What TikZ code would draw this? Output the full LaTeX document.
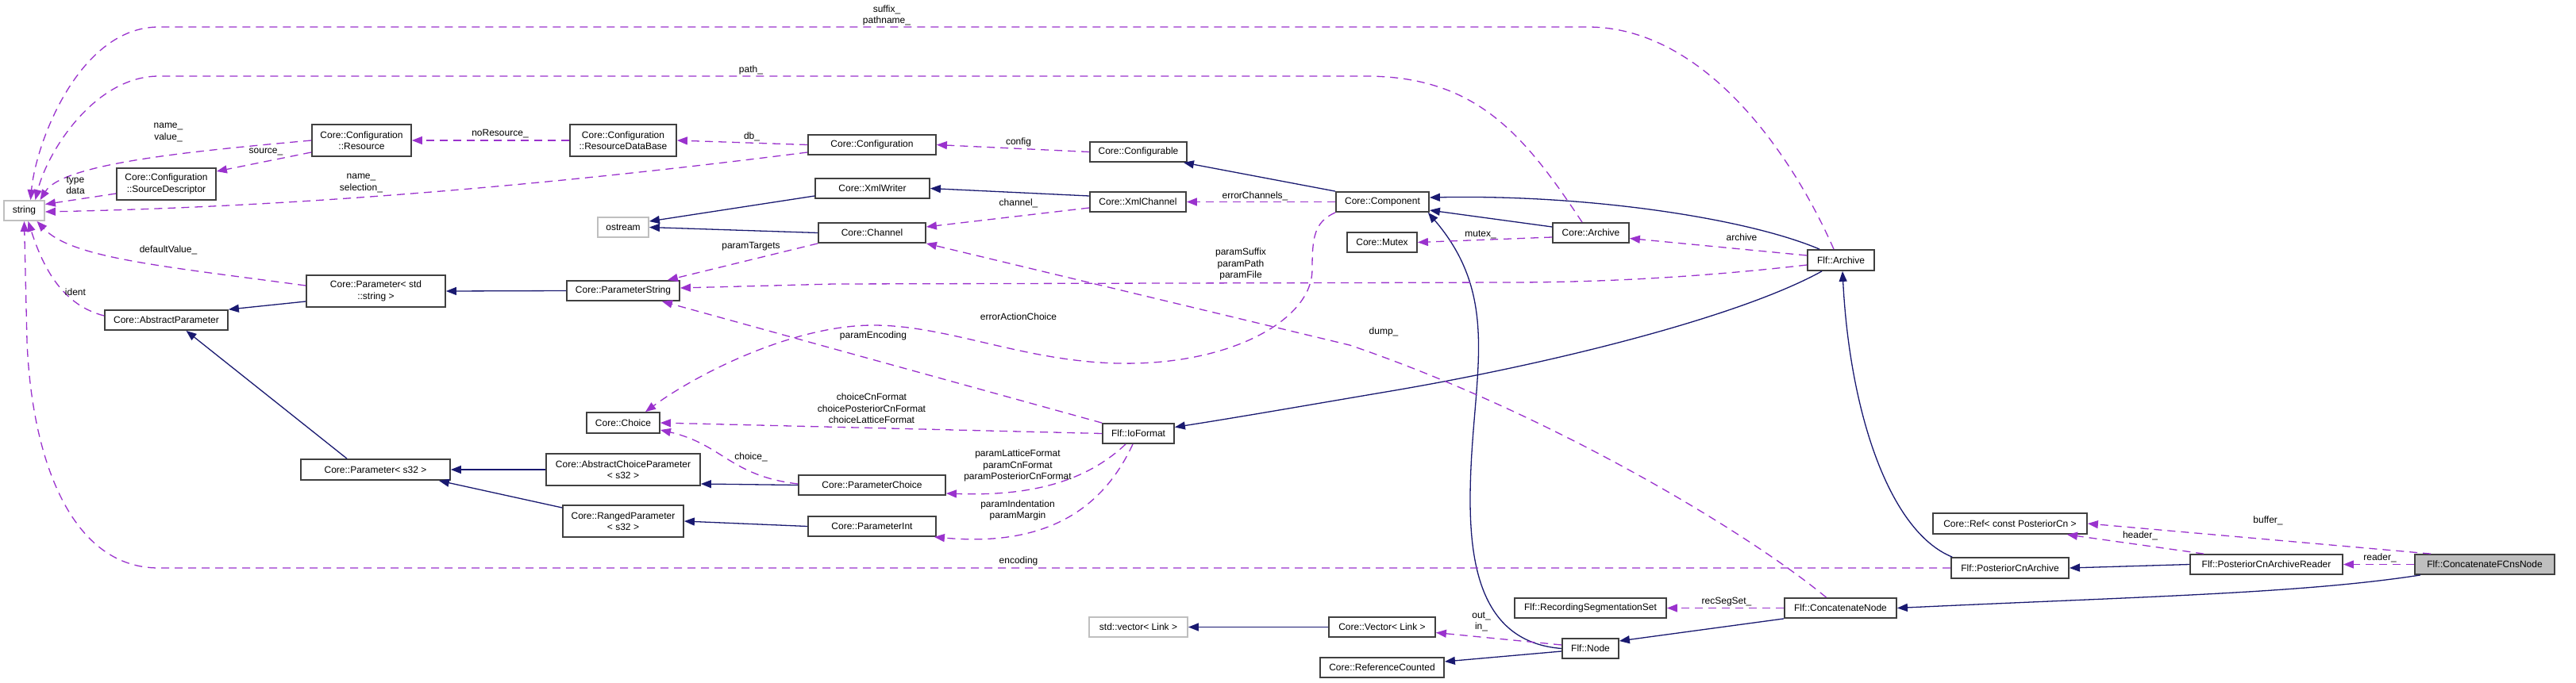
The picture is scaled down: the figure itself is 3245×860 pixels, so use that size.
\documentclass[tikz,border=0pt]{standalone}
\usepackage{fontspec}
\setmainfont{Liberation Sans}
\usetikzlibrary{arrows.meta}
\definecolor{inhcol}{HTML}{191970}
\definecolor{usecol}{HTML}{9A32CD}
\definecolor{extcol}{HTML}{BFBFBF}
\newcommand{\dgfont}{\fontsize{12}{14.5}\selectfont}
\begin{document}
\begin{tikzpicture}[x=1pt,y=-1pt,
  cls/.style={draw=black!75,line width=1.8pt,fill=white,inner sep=0pt,align=center,font=\dgfont},
  ext/.style={cls,draw=extcol},
  self/.style={cls,fill=extcol},
  wh/.style 2 args={minimum width=#1,minimum height=#2},
  inh/.style={draw=inhcol,line width=1.3pt,-{Triangle[length=13pt,width=10pt]}},
  use/.style={draw=usecol,line width=1.3pt,dash pattern=on 10pt off 7pt,-{Triangle[length=13pt,width=10pt]}},
  lbl/.style={align=center,font=\dgfont,inner sep=0pt}]
  \useasboundingbox (0,0) rectangle (3245,860);

  % classes
  \node[ext,wh={51}{25}] (string) at (30.5,265.5) {string};
  \node[cls,wh={125}{40}] (res) at (455.5,177) {Core::Configuration\\::Resource};
  \node[cls,wh={125}{40}] (srcd) at (209.5,232) {Core::Configuration\\::SourceDescriptor};
  \node[cls,wh={175}{40}] (pstr) at (473.5,367) {Core::Parameter< std\\::string >};
  \node[cls,wh={155}{25}] (absp) at (209.5,403.5) {Core::AbstractParameter};
  \node[cls,wh={134}{40}] (rdb) at (785,177) {Core::Configuration\\::ResourceDataBase};
  \node[cls,wh={161}{25}] (conf) at (1098.5,182.5) {Core::Configuration};
  \node[ext,wh={64}{25}] (ostream) at (785,286.5) {ostream};
  \node[cls,wh={144}{25}] (xmlw) at (1099,237.5) {Core::XmlWriter};
  \node[cls,wh={135}{25}] (chan) at (1098.5,293.5) {Core::Channel};
  \node[cls,wh={142}{25}] (parstr) at (785,366.5) {Core::ParameterString};
  \node[cls,wh={122}{25}] (cfgable) at (1434,191.5) {Core::Configurable};
  \node[cls,wh={121}{25}] (xmlch) at (1433.5,254.5) {Core::XmlChannel};
  \node[cls,wh={117}{25}] (comp) at (1741.5,254.5) {Core::Component};
  \node[cls,wh={88}{25}] (mutex) at (1741,305.5) {Core::Mutex};
  \node[cls,wh={96}{25}] (carch) at (2004,293.5) {Core::Archive};
  \node[cls,wh={84}{26}] (farch) at (2319,328) {Flf::Archive};
  \node[cls,wh={188}{26}] (ps32) at (473,592) {Core::Parameter< s32 >};
  \node[cls,wh={92}{26}] (choice) at (785,533) {Core::Choice};
  \node[cls,wh={194}{40}] (acp) at (785,592) {Core::AbstractChoiceParameter\\< s32 >};
  \node[cls,wh={152}{40}] (rp) at (785,657) {Core::RangedParameter\\< s32 >};
  \node[cls,wh={185}{25}] (pchoice) at (1098.5,611.5) {Core::ParameterChoice};
  \node[cls,wh={161}{25}] (pint) at (1098.5,663.5) {Core::ParameterInt};
  \node[cls,wh={90}{25}] (iofmt) at (1434,546.5) {Flf::IoFormat};
  \node[ext,wh={124}{25}] (stdvec) at (1434,790.5) {std::vector< Link >};
  \node[cls,wh={134}{25}] (cvec) at (1741,790.5) {Core::Vector< Link >};
  \node[cls,wh={156}{25}] (refc) at (1741,841.5) {Core::ReferenceCounted};
  \node[cls,wh={71}{25}] (fnode) at (2003.5,817.5) {Flf::Node};
  \node[cls,wh={191}{25}] (recseg) at (2003.5,766.5) {Flf::RecordingSegmentationSet};
  \node[cls,wh={194}{26}] (cref) at (2532,660) {Core::Ref< const PosteriorCn >};
  \node[cls,wh={148}{26}] (pcna) at (2532,716) {Flf::PosteriorCnArchive};
  \node[cls,wh={141}{25}] (cnode) at (2318.5,766.5) {Flf::ConcatenateNode};
  \node[cls,wh={192}{25}] (pcnr) at (2855,711.5) {Flf::PosteriorCnArchiveReader};
  \node[self,wh={176}{25}] (fcns) at (3130,711.5) {Flf::ConcatenateFCnsNode};

  % inheritance
  \draw[inh] ([yshift=-13pt]pstr.west) -- (absp.north east);
  \draw[inh] (parstr.west) -- (pstr.east);
  \draw[inh] ([xshift=-36pt]ps32.north) -- ([xshift=25pt]absp.south);
  \draw[inh] (acp.west) -- (ps32.east);
  \draw[inh] ([yshift=17pt]rp.west) -- ([xshift=-15pt]ps32.south east);
  \draw[inh] (pchoice.west) -- ([yshift=-18pt]acp.east);
  \draw[inh] (pint.west) -- (rp.east);
  \draw[inh] ([yshift=-9.5pt]xmlw.west) -- ([yshift=7.5pt]ostream.east);
  \draw[inh] (chan.west) -- (ostream.east);
  \draw[inh] ([yshift=7.5pt]xmlch.west) -- (xmlw.east);
  \draw[inh] (comp.north west) -- ([xshift=-5pt]cfgable.south east);
  \draw[inh] ([yshift=7.5pt]carch.west) -- ([yshift=-10.5pt]comp.east);
  \draw[inh] ([xshift=-27pt]farch.north) .. controls (2200,275) and (2000,245) .. ([yshift=5.5pt]comp.east);
  \draw[inh] (fnode.west) .. controls (1870,810) and (1852,720) .. (1852,630)
    .. controls (1852,480) and (1895,380) .. ([xshift=-2pt]comp.south east);
  \draw[inh] ([yshift=-3.5pt]fnode.west) -- ([yshift=7.5pt]refc.east);
  \draw[inh] (cvec.west) -- (stdvec.east);
  \draw[inh] ([xshift=-24pt]farch.south) .. controls (2190,400) and (1950,460) .. (1740,495)
    .. controls (1640,512) and (1560,526) .. ([yshift=8pt]iofmt.east);
  \draw[inh] ([xshift=2pt]pcna.north west) .. controls (2380,670) and (2330,520) .. ([xshift=2pt]farch.south);
  \draw[inh] (pcnr.west) -- (pcna.east);
  \draw[inh] (cnode.south west) -- ([yshift=9.5pt]fnode.east);
  \draw[inh] ([xshift=8pt]fcns.south west) .. controls (2900,748) and (2700,752) .. (cnode.east);

  % usage
  \draw[use] ([xshift=-9pt]farch.north) .. controls (2260,200) and (2150,34) .. (2000,34) -- (200,34)
    .. controls (100,34) and (45,180) .. ([xshift=8pt]string.north);
  \draw[use] ([xshift=-11pt]carch.north) .. controls (1920,170) and (1860,96) .. (1720,96) -- (200,96)
    .. controls (120,96) and (60,190) .. ([xshift=14pt]string.north);
  \draw[use] (res.west) .. controls (250,190) and (80,205) .. ([xshift=20pt]string.north);
  \draw[use] ([yshift=-12pt]srcd.west) -- ([yshift=8pt]string.east);
  \draw[use] ([yshift=-9.5pt]conf.west) .. controls (600,245) and (300,262) .. ([yshift=-1.5pt]string.east);
  \draw[use] ([yshift=7pt]pstr.west) .. controls (200,335) and (90,325) .. ([xshift=16pt]string.south);
  \draw[use] ([yshift=5.5pt]absp.west) .. controls (80,385) and (55,340) .. ([xshift=5pt]string.south);
  \draw[use] (pcna.west) -- (200,716) .. controls (90,716) and (40,580) .. (34,430) -- (string.south);
  \draw[use] ([yshift=-15pt]res.west) -- ([yshift=16pt]srcd.east);
  \draw[use] (rdb.west) -- (res.east);
  \draw[use] (conf.west) -- (rdb.east);
  \draw[use] (cfgable.west) -- (conf.east);
  \draw[use] ([yshift=-7.5pt]xmlch.west) -- ([yshift=7.5pt]chan.east);
  \draw[use] (comp.west) -- (xmlch.east);
  \draw[use] ([yshift=-5.5pt]carch.west) -- (mutex.east);
  \draw[use] ([yshift=6pt]farch.west) -- ([yshift=-7pt]carch.east);
  \draw[use] (chan.south west) -- ([xshift=-16pt]parstr.north east);
  \draw[use] ([yshift=-6pt]farch.west) .. controls (2180,345) and (2050,356) .. (1900,356) -- (1050,358)
    -- ([yshift=3.5pt]parstr.east);
  \draw[use] (iofmt.north west) -- ([xshift=-23pt]parstr.south east);
  \draw[use] (comp.south west) .. controls (1655,280) and (1653,300) .. (1653,340)
    .. controls (1653,400) and (1560,455) .. (1430,458)
    .. controls (1300,461) and (1200,410) .. (1100,410)
    .. controls (1000,410) and (880,470) .. ([xshift=28pt]choice.north);
  \draw[use] (iofmt.west) -- (choice.east);
  \draw[use] ([yshift=1.5pt]pchoice.west) .. controls (920,600) and (910,560) .. ([yshift=-9pt]choice.east);
  \draw[use] ([xshift=-16pt]iofmt.south) .. controls (1360,615) and (1280,625) .. ([yshift=-10.5pt]pchoice.east);
  \draw[use] ([xshift=-7pt]iofmt.south) .. controls (1390,640) and (1320,690) .. ([xshift=-3pt]pint.south east);
  \draw[use] ([xshift=-18pt]cnode.north) .. controls (2200,670) and (1950,520) .. (1700,435) -- (chan.south east);
  \draw[use] ([yshift=4.5pt]fnode.west) -- ([yshift=-7pt]cvec.east);
  \draw[use] (cnode.west) -- (recseg.east);
  \draw[use] ([xshift=18pt]pcnr.north west) -- ([xshift=-26pt]cref.south east);
  \draw[use] ([xshift=21pt]fcns.north west) -- (cref.east);
  \draw[use] (fcns.west) -- (pcnr.east);

  % member names
  \node[lbl] at (1117,19.5) {suffix\_\\pathname\_};
  \node[lbl] at (946,88) {path\_};
  \node[lbl] at (212,167) {name\_\\value\_};
  \node[lbl] at (335,191) {source\_};
  \node[lbl] at (95,233.5) {type\\data};
  \node[lbl] at (455,231) {name\_\\selection\_};
  \node[lbl] at (212,315) {defaultValue\_};
  \node[lbl] at (95,368) {ident};
  \node[lbl] at (630,169) {noResource\_};
  \node[lbl] at (947,172) {db\_};
  \node[lbl] at (1283,179) {config};
  \node[lbl] at (1283,256) {channel\_};
  \node[lbl] at (1581,247) {errorChannels\_};
  \node[lbl] at (1865,296) {mutex\_};
  \node[lbl] at (2194,299) {archive};
  \node[lbl] at (946,311) {paramTargets};
  \node[lbl] at (1563,333) {paramSuffix\\paramPath\\paramFile};
  \node[lbl] at (1283,399) {errorActionChoice};
  \node[lbl] at (1100,423) {paramEncoding};
  \node[lbl] at (1743,418) {dump\_};
  \node[lbl] at (1098,515) {choiceCnFormat\\choicePosteriorCnFormat\\choiceLatticeFormat};
  \node[lbl] at (946,576) {choice\_};
  \node[lbl] at (1282,587) {paramLatticeFormat\\paramCnFormat\\paramPosteriorCnFormat};
  \node[lbl] at (1282,643.5) {paramIndentation\\paramMargin};
  \node[lbl] at (1283,707) {encoding};
  \node[lbl] at (1866,784) {out\_\\in\_};
  \node[lbl] at (2175,759) {recSegSet\_};
  \node[lbl] at (2696,675) {header\_};
  \node[lbl] at (2857,656) {buffer\_};
  \node[lbl] at (2998,703) {reader\_};
\end{tikzpicture}
\end{document}
